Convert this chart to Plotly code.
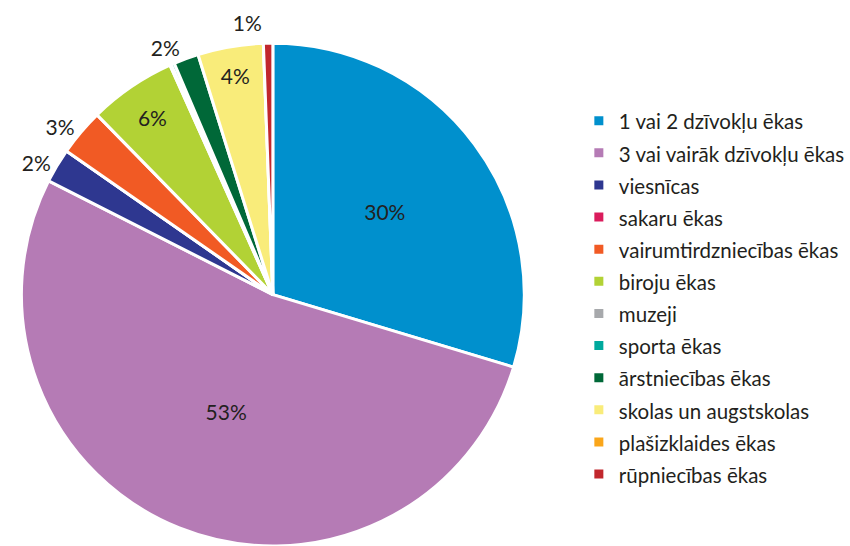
import plotly.graph_objects as go

labels = [
    "1 vai 2 dzīvokļu ēkas",
    "3 vai vairāk dzīvokļu ēkas",
    "viesnīcas",
    "sakaru ēkas",
    "vairumtirdzniecības ēkas",
    "biroju ēkas",
    "muzeji",
    "sporta ēkas",
    "ārstniecības ēkas",
    "skolas un augstskolas",
    "plašizklaides ēkas",
    "rūpniecības ēkas",
]
values = [29.6, 52.7, 2.2, 0.0, 3.0, 5.6, 0.1, 0.2, 1.6, 4.2, 0.0, 0.6]
colors = [
    "#0090CD", "#B57BB5", "#2E3790", "#DA1C5C", "#F15A24", "#B2D235",
    "#A7A9AC", "#00A99D", "#006838", "#F9EC7A", "#FAA61A", "#C1272D",
]
show_label = [True, True, True, False, True, True, False, False, True, True, False, True]
label_inside = [True, True, False, False, False, True, False, False, False, True, False, False]

FONT = "Lato"
TEXT_COLOR = "#231F20"

legend_labels = [f'<span style="font-size:20.5px">{l}</span>' for l in labels]

fig = go.Figure(
    go.Pie(
        labels=legend_labels,
        values=values,
        sort=False,
        direction="clockwise",
        rotation=0,
        marker=dict(colors=colors, line=dict(color="white", width=3)),
        texttemplate=["%{percent:.0%}" if s else "" for s in show_label],
        textposition=["inside" if i else "outside" for i in label_inside],
        insidetextorientation="horizontal",
        textfont=dict(family=FONT, size=21, color=TEXT_COLOR),
        domain=dict(x=[0, 0.642], y=[0, 0.921]),
        hoverinfo="label+percent",
    )
)

fig.update_layout(
    width=850,
    height=546,
    margin=dict(l=0, r=0, t=0, b=0, autoexpand=False),
    paper_bgcolor="white",
    plot_bgcolor="white",
    font=dict(family=FONT, color=TEXT_COLOR),
    legend=dict(
        x=0.681,
        xanchor="left",
        y=0.8175,
        yanchor="top",
        font=dict(family=FONT, size=22.4, color=TEXT_COLOR),
        bgcolor="rgba(0,0,0,0)",
    ),
)

post = """
document.body.style.margin = '0';
document.querySelectorAll('path.textline').forEach(function(e){ e.style.display = 'none'; });
"""

fig.write_html("out.html", post_script=post, config={"displayModeBar": False})
